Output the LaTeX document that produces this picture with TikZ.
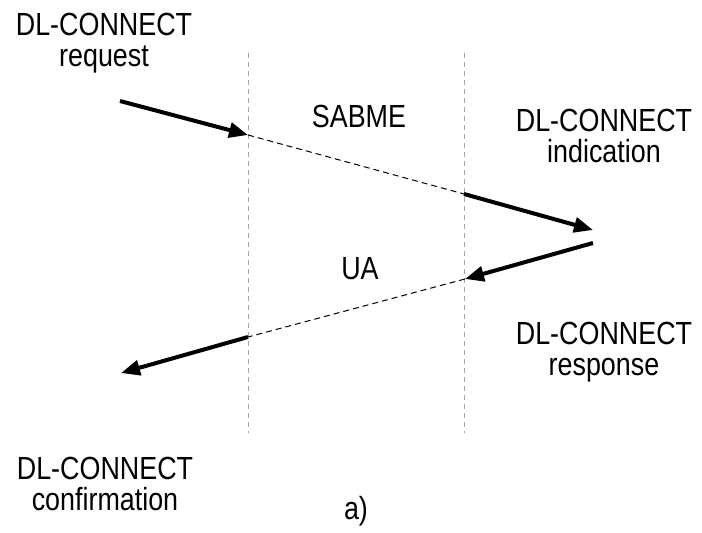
\documentclass[tikz,border=0pt]{standalone}
\usepackage{fontspec}
\setmainfont[FakeStretch=0.84]{Liberation Sans}
\usepackage{tikz}
\usetikzlibrary{arrows.meta}

\begin{document}
\begin{tikzpicture}[x=0.5pt, y=-0.5pt,
		text_style/.style={align=center, anchor=base, inner sep=0pt, font=\fontsize{16pt}{15.5pt}\selectfont},
		line_style/.style={draw=black!35, line width=0.5pt, dash pattern=on 2.5pt off 2pt},
		edge_style/.style={draw=black, line width=2pt, -{Triangle[length=9.5pt,width=7.5pt]}},
		msg_style/.style={draw=black, line width=0.5pt, dash pattern=on 3pt off 2pt}]
		
		\useasboundingbox (0,0) rectangle (702,533);
		
		\coordinate (la) at (248,53);
		\coordinate (lb) at (248,433);
		\coordinate (ra) at (464,53);
		\coordinate (rb) at (464,433);
		
		\node[text_style] (req) at (104,67)  {DL-CONNECT\\request};
		\node[text_style] (ind) at (604,163)  {DL-CONNECT\\indication};
		\node[text_style] (resp) at (604,376)  {DL-CONNECT\\response};
		\node[text_style] (conf) at (105,511)  {DL-CONNECT\\confirmation};
		\node[text_style] (sabme) at (359,128)  {SABME};
		\node[text_style] (ua) at (360,280)  {UA};
		\node[text_style] (cap) at (356,520)  {a)};
		
		\coordinate (p1) at (120,101);
		\coordinate (p2) at (248,135);
		\coordinate (p3) at (464,194);
		\coordinate (p4) at (593,230);
		\coordinate (p5) at (593,243);
		\coordinate (p6) at (465,279);
		\coordinate (p7) at (248,337);
		\coordinate (p8) at (121,373);
		
		\draw[line_style]  (la) -- (lb);
		\draw[line_style]  (ra) -- (rb);
		
		\draw[msg_style]  (p2) -- (p3);
		\draw[msg_style]  (p6) -- (p7);
		
		\draw[edge_style]  (p1) -- (p2);
		\draw[edge_style]  (p3) -- (p4);
		\draw[edge_style]  (p5) -- (p6);
		\draw[edge_style]  (p7) -- (p8);
		
\end{tikzpicture}
\end{document}
